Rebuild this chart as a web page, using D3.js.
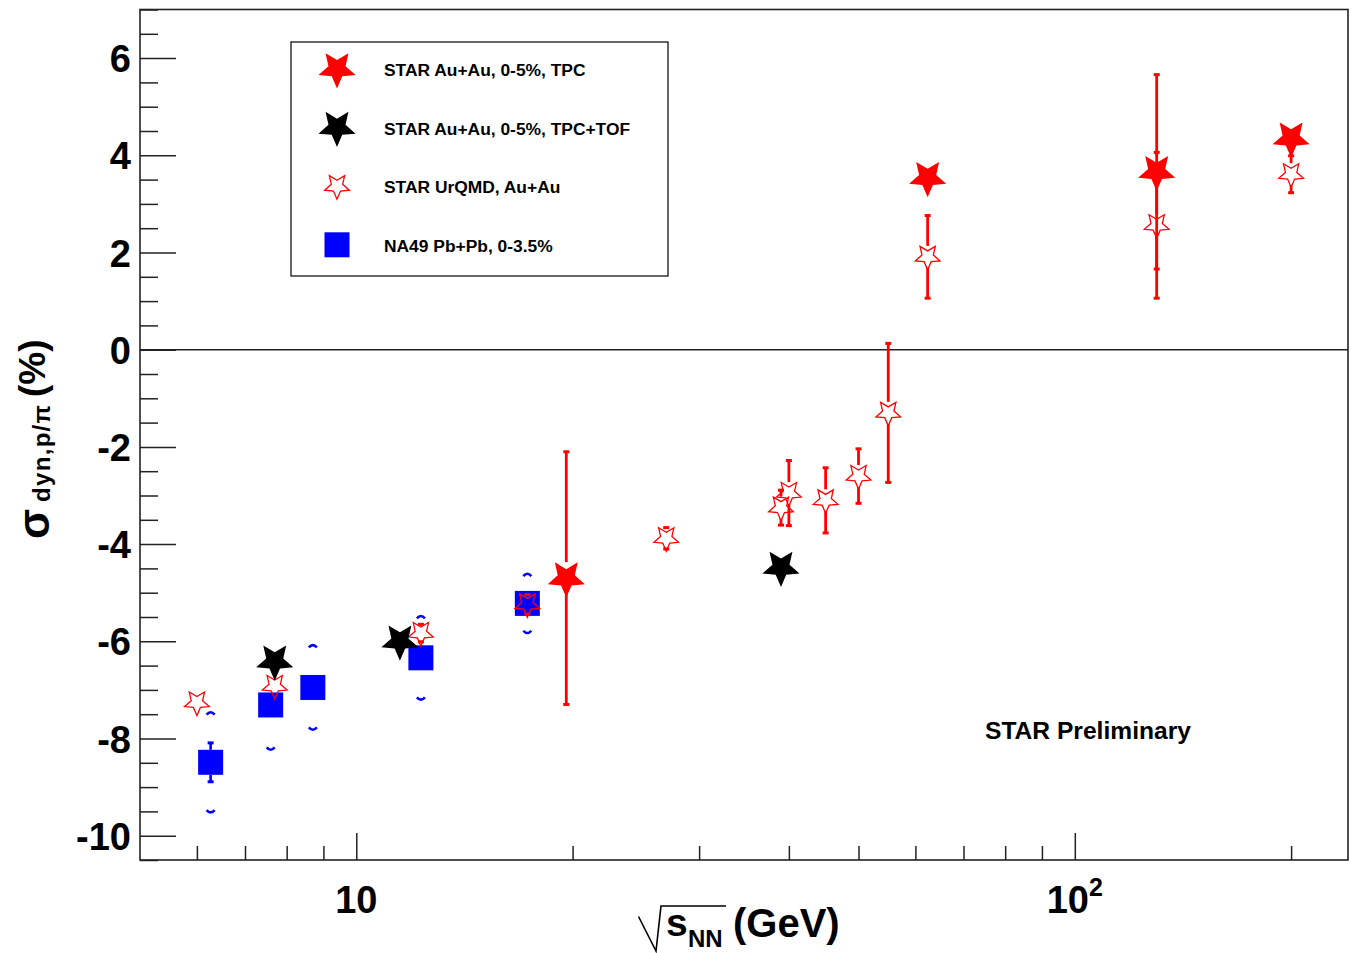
<!DOCTYPE html>
<html>
<head>
<meta charset="utf-8">
<script src="https://cdn.jsdelivr.net/npm/d3@7"></script>
<style>
  html, body { margin: 0; padding: 0; background: #fff; }
  svg { display: block; }
  text { font-family: "Liberation Sans", Arial, Helvetica, sans-serif; font-weight: bold; fill: #000; }
</style>
</head>
<body>
<svg id="chart" width="1351" height="953"></svg>
<script>
// ---- data: sigma_dyn(p/pi) in percent vs collision energy sqrt(s_NN) in GeV ----

// STAR Au+Au 0-5%, TPC identification
const tpcEnergy = [19.6, 62.4, 130, 200];
const tpcValue  = [-4.70, 3.54, 3.66, 4.35];
const tpcError  = [2.60, 0.10, 2.00, 0.10];

// STAR Au+Au 0-5%, TPC+TOF identification
const tofEnergy = [7.7, 11.5, 39];
const tofValue  = [-6.41, -6.00, -4.48];
const tofError  = [0.10, 0.10, 0.10];

// UrQMD Au+Au
const urqmdEnergy = [6.0, 7.7, 12.3, 17.3, 27, 39, 40, 45, 50, 55, 62.4, 130, 200];
const urqmdValue  = [-7.26, -6.92, -5.83, -5.24, -3.88, -3.25, -2.95, -3.10, -2.60, -1.30, 1.91, 2.56, 3.61];
const urqmdError  = [0, 0, 0.18, 0.20, 0.22, 0.36, 0.67, 0.67, 0.56, 1.43, 0.85, 1.50, 0.38];

// NA49 Pb+Pb 0-3.5%
const na49Energy = [6.27, 7.6, 8.7, 12.3, 17.3];
const na49Value  = [-8.49, -7.31, -6.95, -6.34, -5.22];
const na49Stat   = [0.40, 0.20, 0.20, 0.20, 0.20];
const na49Sys    = [1.02, 0.91, 0.86, 0.85, 0.60];

// axis ticks
const yMajorTicks = [-10, -8, -6, -4, -2, 0, 2, 4, 6];
const yMinorTicks = d3.range(-10.5, 7.01, 0.5).filter(v => Math.abs(v % 2) > 1e-9);
const xMajorTicks = [10, 100];
const xTickBase   = ["10", "10"];
const xTickExp    = ["", "2"];
const xMinorTicks = [6, 7, 8, 9, 20, 30, 40, 50, 60, 70, 80, 90, 200];

const legendLabels = [
  "STAR Au+Au, 0-5%, TPC",
  "STAR Au+Au, 0-5%, TPC+TOF",
  "STAR UrQMD, Au+Au",
  "NA49 Pb+Pb, 0-3.5%"
];

// ---- layout ----
const frame = { left: 140, right: 1348, top: 9.5, bottom: 860 };
const RED = "#ff0000", BLUE = "#0000ff", BLACK = "#000000", AXIS = "#222222";

const svg = d3.select("#chart");

const x = d3.scaleLog().domain([5, 240]).range([frame.left, frame.right]);
const y = d3.scaleLinear().domain([-10.5, 7]).range([frame.bottom, frame.top]);

// five-pointed star, one point facing down
function starPath(R, r) {
  const pts = [];
  for (let k = 0; k < 10; k++) {
    const a = (90 + 36 * k) * Math.PI / 180;
    const rad = k % 2 === 0 ? R : r;
    pts.push([rad * Math.cos(a), rad * Math.sin(a)]);
  }
  return "M" + pts.map(p => p[0].toFixed(2) + "," + p[1].toFixed(2)).join("L") + "Z";
}
const FULL_R = 19.5, OPEN_R = 13, SQ = 25;
const fullStar = starPath(FULL_R, FULL_R * 0.46);
const openStar = starPath(OPEN_R, OPEN_R * 0.46);

// ---- axes ----
const yAxisG = svg.append("g").attr("transform", `translate(${frame.left},0)`);
yAxisG.call(d3.axisLeft(y).tickValues(yMinorTicks).tickSizeInner(-18).tickSizeOuter(0).tickFormat(""));
yAxisG.call(g => g.select(".domain").remove());
const yMajG = svg.append("g").attr("transform", `translate(${frame.left},0)`);
yMajG.call(d3.axisLeft(y).tickValues(yMajorTicks).tickSizeInner(-36).tickSizeOuter(0).tickPadding(9).tickFormat(d3.format("d")));
yMajG.call(g => g.select(".domain").remove());
yMajG.selectAll("text")
  .attr("font-size", 38).attr("dy", "0.36em")
  .style("font-family", '"Liberation Sans", Arial, sans-serif').style("font-weight", "bold")
  .text(d => d < 0 ? "-" + Math.abs(d) : d);

const xAxisG = svg.append("g").attr("transform", `translate(0,${frame.bottom})`);
xAxisG.call(d3.axisBottom(x).tickValues(xMinorTicks).tickSizeInner(-14).tickSizeOuter(0).tickFormat(""));
xAxisG.call(g => g.select(".domain").remove());
const xMajG = svg.append("g").attr("transform", `translate(0,${frame.bottom})`);
xMajG.call(d3.axisBottom(x).tickValues(xMajorTicks).tickSizeInner(-27).tickSizeOuter(0).tickFormat(""));
xMajG.call(g => g.select(".domain").remove());
svg.selectAll(".tick line").attr("stroke", AXIS).attr("stroke-width", 1.5);

// x tick labels (power-of-ten notation)
const xLab = svg.append("g").selectAll("text").data(xMajorTicks).join("text")
  .attr("x", d => x(d)).attr("y", 913)
  .attr("text-anchor", "middle").attr("font-size", 38);
xLab.append("tspan").text((d, i) => xTickBase[i]);
xLab.append("tspan").attr("font-size", 25).attr("dy", -17).text((d, i) => xTickExp[i]);

// frame and zero line
svg.append("rect")
  .attr("x", frame.left).attr("y", frame.top)
  .attr("width", frame.right - frame.left).attr("height", frame.bottom - frame.top)
  .attr("fill", "none").attr("stroke", AXIS).attr("stroke-width", 1.6);
svg.append("line")
  .attr("x1", frame.left).attr("x2", frame.right)
  .attr("y1", y(0)).attr("y2", y(0))
  .attr("stroke", AXIS).attr("stroke-width", 1.4);

// ---- axis titles ----
// x title: radical sign + s_NN (GeV)
svg.append("path")
  .attr("d", "M638.5,916.5 L656,951 L661,906 L726,906")
  .attr("fill", "none").attr("stroke", BLACK).attr("stroke-width", 1.6);
svg.append("text").attr("x", 666).attr("y", 936).attr("font-size", 39).text("s");
svg.append("text").attr("x", 688).attr("y", 947).attr("font-size", 24).text("NN");
svg.append("text").attr("x", 733).attr("y", 937).attr("font-size", 40).text("(GeV)");

// y title: sigma_{dyn,p/pi} (%)
svg.append("text").attr("transform", "translate(49,539) rotate(-90)")
  .attr("font-size", 44).text("σ");
svg.append("text").attr("transform", "translate(50,502) rotate(-90)")
  .attr("font-size", 24).attr("textLength", 97).attr("lengthAdjust", "spacing").text("dyn,p/π");
svg.append("text").attr("transform", "translate(45,397) rotate(-90)")
  .attr("font-size", 37).text("(%)");

svg.append("text").attr("x", 985).attr("y", 739).attr("font-size", 24.6).text("STAR Preliminary");

// ---- error bars ----
function errorBars(g, xs, vs, es, color, gap, width) {
  xs.forEach((xv, i) => {
    const e = es[i];
    if (!(e > 0)) return;
    const cx = x(xv), cy = y(vs[i]), top = y(vs[i] + e), bot = y(vs[i] - e);
    if (top < cy - gap) g.append("line").attr("x1", cx).attr("x2", cx).attr("y1", top).attr("y2", cy - gap)
      .attr("stroke", color).attr("stroke-width", width);
    if (bot > cy + gap) g.append("line").attr("x1", cx).attr("x2", cx).attr("y1", cy + gap).attr("y2", bot)
      .attr("stroke", color).attr("stroke-width", width);
    [top, bot].forEach(yy => g.append("line")
      .attr("x1", cx - 3).attr("x2", cx + 3).attr("y1", yy).attr("y2", yy)
      .attr("stroke", color).attr("stroke-width", 3));
  });
}

const plot = svg.append("g");

// NA49: systematic brackets, statistical bars, squares
const na49G = plot.append("g");
na49Energy.forEach((e, i) => {
  const cx = x(e), yt = y(na49Value[i] + na49Sys[i]), yb = y(na49Value[i] - na49Sys[i]);
  na49G.append("path").attr("d", `M${cx - 4},${yt + 1.8} Q${cx},${yt - 2.8} ${cx + 4},${yt + 1.8}`)
    .attr("fill", "none").attr("stroke", BLUE).attr("stroke-width", 2.6);
  na49G.append("path").attr("d", `M${cx - 4},${yb - 1.8} Q${cx},${yb + 2.8} ${cx + 4},${yb - 1.8}`)
    .attr("fill", "none").attr("stroke", BLUE).attr("stroke-width", 2.6);
});
errorBars(na49G, na49Energy, na49Value, na49Stat, BLUE, SQ / 2, 2.6);
na49G.selectAll("rect").data(na49Energy).join("rect")
  .attr("x", d => x(d) - SQ / 2).attr("y", (d, i) => y(na49Value[i]) - SQ / 2)
  .attr("width", SQ).attr("height", SQ).attr("fill", BLUE);

// UrQMD: open stars
const urG = plot.append("g");
errorBars(urG, urqmdEnergy, urqmdValue, urqmdError, RED, 11, 2.8);
urG.selectAll("path.m").data(urqmdEnergy).join("path").attr("class", "m")
  .attr("d", openStar)
  .attr("transform", (d, i) => `translate(${x(d)},${y(urqmdValue[i])})`)
  .attr("fill", "none").attr("stroke", RED).attr("stroke-width", 1.3);

// TPC+TOF: full black stars
const tofG = plot.append("g");
errorBars(tofG, tofEnergy, tofValue, tofError, BLACK, 16, 2.8);
tofG.selectAll("path.m").data(tofEnergy).join("path").attr("class", "m")
  .attr("d", fullStar)
  .attr("transform", (d, i) => `translate(${x(d)},${y(tofValue[i])})`)
  .attr("fill", BLACK);

// TPC: full red stars
const tpcG = plot.append("g");
errorBars(tpcG, tpcEnergy, tpcValue, tpcError, RED, 16, 2.8);
tpcG.selectAll("path.m").data(tpcEnergy).join("path").attr("class", "m")
  .attr("d", fullStar)
  .attr("transform", (d, i) => `translate(${x(d)},${y(tpcValue[i])})`)
  .attr("fill", RED);

// ---- legend ----
const leg = svg.append("g");
leg.append("rect").attr("x", 291).attr("y", 42).attr("width", 377).attr("height", 234)
  .attr("fill", "#fff").attr("stroke", BLACK).attr("stroke-width", 1.2);
const rowY = i => 69 + i * 58.6;
const markX = 337;
leg.append("path").attr("d", fullStar).attr("transform", `translate(${markX},${rowY(0)})`).attr("fill", RED);
leg.append("path").attr("d", fullStar).attr("transform", `translate(${markX},${rowY(1)})`).attr("fill", BLACK);
leg.append("path").attr("d", openStar).attr("transform", `translate(${markX},${rowY(2)})`)
  .attr("fill", "none").attr("stroke", RED).attr("stroke-width", 1.3);
leg.append("rect").attr("x", markX - SQ / 2).attr("y", rowY(3) - SQ / 2).attr("width", SQ).attr("height", SQ).attr("fill", BLUE);
leg.selectAll("text").data(legendLabels).join("text")
  .attr("x", 384).attr("y", (d, i) => rowY(i) + 7.2)
  .attr("font-size", 17.4).text(d => d);
</script>
</body>
</html>
